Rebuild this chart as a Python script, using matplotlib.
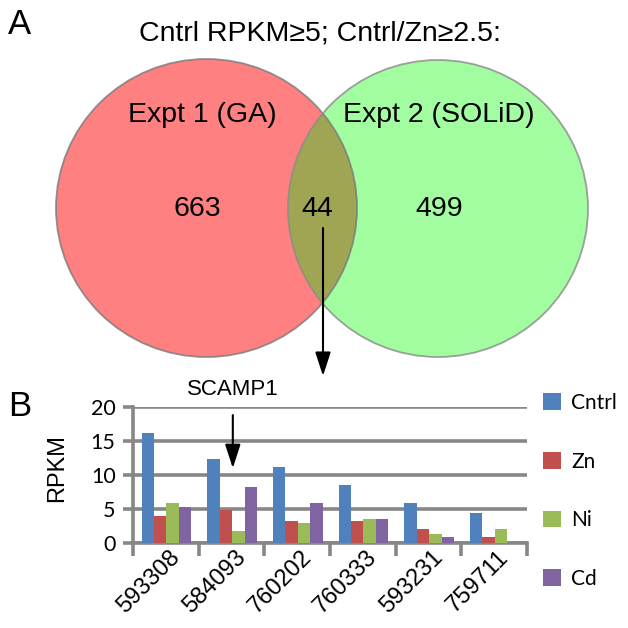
import matplotlib
matplotlib.use("Agg")
import matplotlib.pyplot as plt
import matplotlib.transforms as mtransforms
from matplotlib.patches import Ellipse
import numpy as np

# Panel A: Venn counts
venn_title = "Cntrl RPKM≥5; Cntrl/Zn≥2.5:"
set_names = ["Expt 1 (GA)", "Expt 2 (SOLiD)"]
venn_counts = [663, 44, 499]  # only GA, both, only SOLiD

# Panel B: RPKM per gene
genes = ["593308", "584093", "760202", "760333", "593231", "759711"]
cntrl = [16.2, 12.4, 11.2, 8.6, 5.9, 4.4]
zn = [4.0, 4.8, 3.3, 3.2, 2.1, 0.9]
ni = [5.9, 1.7, 2.9, 3.6, 1.3, 2.1]
cd = [5.3, 8.2, 5.9, 3.6, 0.9, 0.0]
series = {"Cntrl": cntrl, "Zn": zn, "Ni": ni, "Cd": cd}
colors = ["#4F81BD", "#C0504D", "#9BBB59", "#8064A2"]
highlight = "SCAMP1"

W = 628
fig = plt.figure(figsize=(6.28, 6.28), dpi=100)
plt.rcParams['font.family'] = ['Liberation Sans', 'DejaVu Sans']

arrow_style = "-|>,head_length=1.45,head_width=0.47"

# ---- Venn in pixel coords over whole figure ----
va = fig.add_axes([0, 0, 1, 1])
va.set_xlim(0, W)
va.set_ylim(W, 0)
va.axis("off")

red = Ellipse((206.5, 208), 301, 298, facecolor="#FF8080", edgecolor="none", zorder=1)
green = Ellipse((438, 208.5), 300, 297, facecolor="#A1FDA0", edgecolor="none", zorder=1)
va.add_patch(red)
va.add_patch(green)
both = Ellipse((438, 208.5), 300, 297, facecolor="#9FA552", edgecolor="none", zorder=2)
va.add_patch(both)
both.set_clip_path(red)
va.add_patch(Ellipse((206.5, 208), 301, 298, fill=False, edgecolor="#7a7a7a", lw=1.3, zorder=3, alpha=0.8))
va.add_patch(Ellipse((438, 208.5), 300, 297, fill=False, edgecolor="#8a8a8a", lw=1.3, zorder=3, alpha=0.8))

va.text(19.5, 25, "A", fontsize=25, ha="center", va="center")
va.text(19.5, 406, "B", fontsize=25, ha="center", va="center")
va.text(320, 33, venn_title, fontsize=20.5, ha="center", va="center")
va.text(202, 115, set_names[0], fontsize=20.5, ha="center", va="center")
va.text(439, 115, set_names[1], fontsize=20.5, ha="center", va="center")
for x, c in zip([197, 317, 439], venn_counts):
    va.text(x, 209, str(c), fontsize=20.5, ha="center", va="center", zorder=4)
va.annotate("", xy=(323, 376), xytext=(323, 228),
            arrowprops=dict(arrowstyle=arrow_style, color="black",
                            lw=1.5, mutation_scale=10, shrinkA=0, shrinkB=0))

# ---- Bar chart ----
ax = fig.add_axes([133 / W, 1 - 543 / W, 394 / W, 136 / W])
x = np.arange(len(genes)) + 0.5
bw = 0.188
for i, (name, vals) in enumerate(series.items()):
    ax.bar(x + (i - 1.5) * bw + 0.01, vals, bw, color=colors[i], label=name, zorder=3)

gray = "#878787"
ax.set_xlim(0, len(genes))
ax.set_ylim(0, 20)
ax.set_yticks([0, 5, 10, 15, 20])
ax.yaxis.grid(True, color=gray, lw=2.6)
ax.set_axisbelow(True)
for s in ["top", "right"]:
    ax.spines[s].set_visible(False)
for s in ["left", "bottom"]:
    ax.spines[s].set_color(gray)
    ax.spines[s].set_linewidth(2.6)
ax.tick_params(axis="y", length=7.5, width=2.6, color=gray, pad=5, labelsize=15.5)
for lab in ax.get_yticklabels():
    lab.set_fontfamily(["Lato", "DejaVu Sans"])
ax.set_xticks(np.arange(len(genes) + 1))
ax.set_xticklabels([])
ax.tick_params(axis="x", which="major", length=9.5, width=2.6, color=gray)
ax.set_xticks(x, minor=True)
ax.set_xticklabels(genes, minor=True, rotation=45, ha="right", rotation_mode="anchor", fontsize=17)
ax.tick_params(axis="x", which="minor", length=0, pad=2.5)
off = mtransforms.ScaledTranslation(3 / 100, 0, fig.dpi_scale_trans)
for lab in ax.get_xticklabels(minor=True):
    lab.set_transform(lab.get_transform() + off)

ax.set_ylabel("RPKM", fontsize=17)
ax.yaxis.set_label_coords(-0.165, 0.55)

ax.annotate(highlight, xy=(1.52, 11.0), xytext=(1.52, 22.6), fontsize=16,
            ha="center", va="center", annotation_clip=False,
            arrowprops=dict(arrowstyle=arrow_style, color="black",
                            lw=1.5, mutation_scale=10, shrinkA=9, shrinkB=0))

leg = ax.legend(loc="upper left", bbox_to_anchor=(543 / W, 1 - 393 / W),
                bbox_transform=fig.transFigure, frameon=False, fontsize=15,
                handlelength=0.85, handleheight=0.85, handletextpad=0.5,
                labelspacing=1.85, borderpad=0, borderaxespad=0)
for t in leg.get_texts():
    t.set_fontfamily(["Lato", "DejaVu Sans"])

fig.savefig("out.png", dpi=100)
